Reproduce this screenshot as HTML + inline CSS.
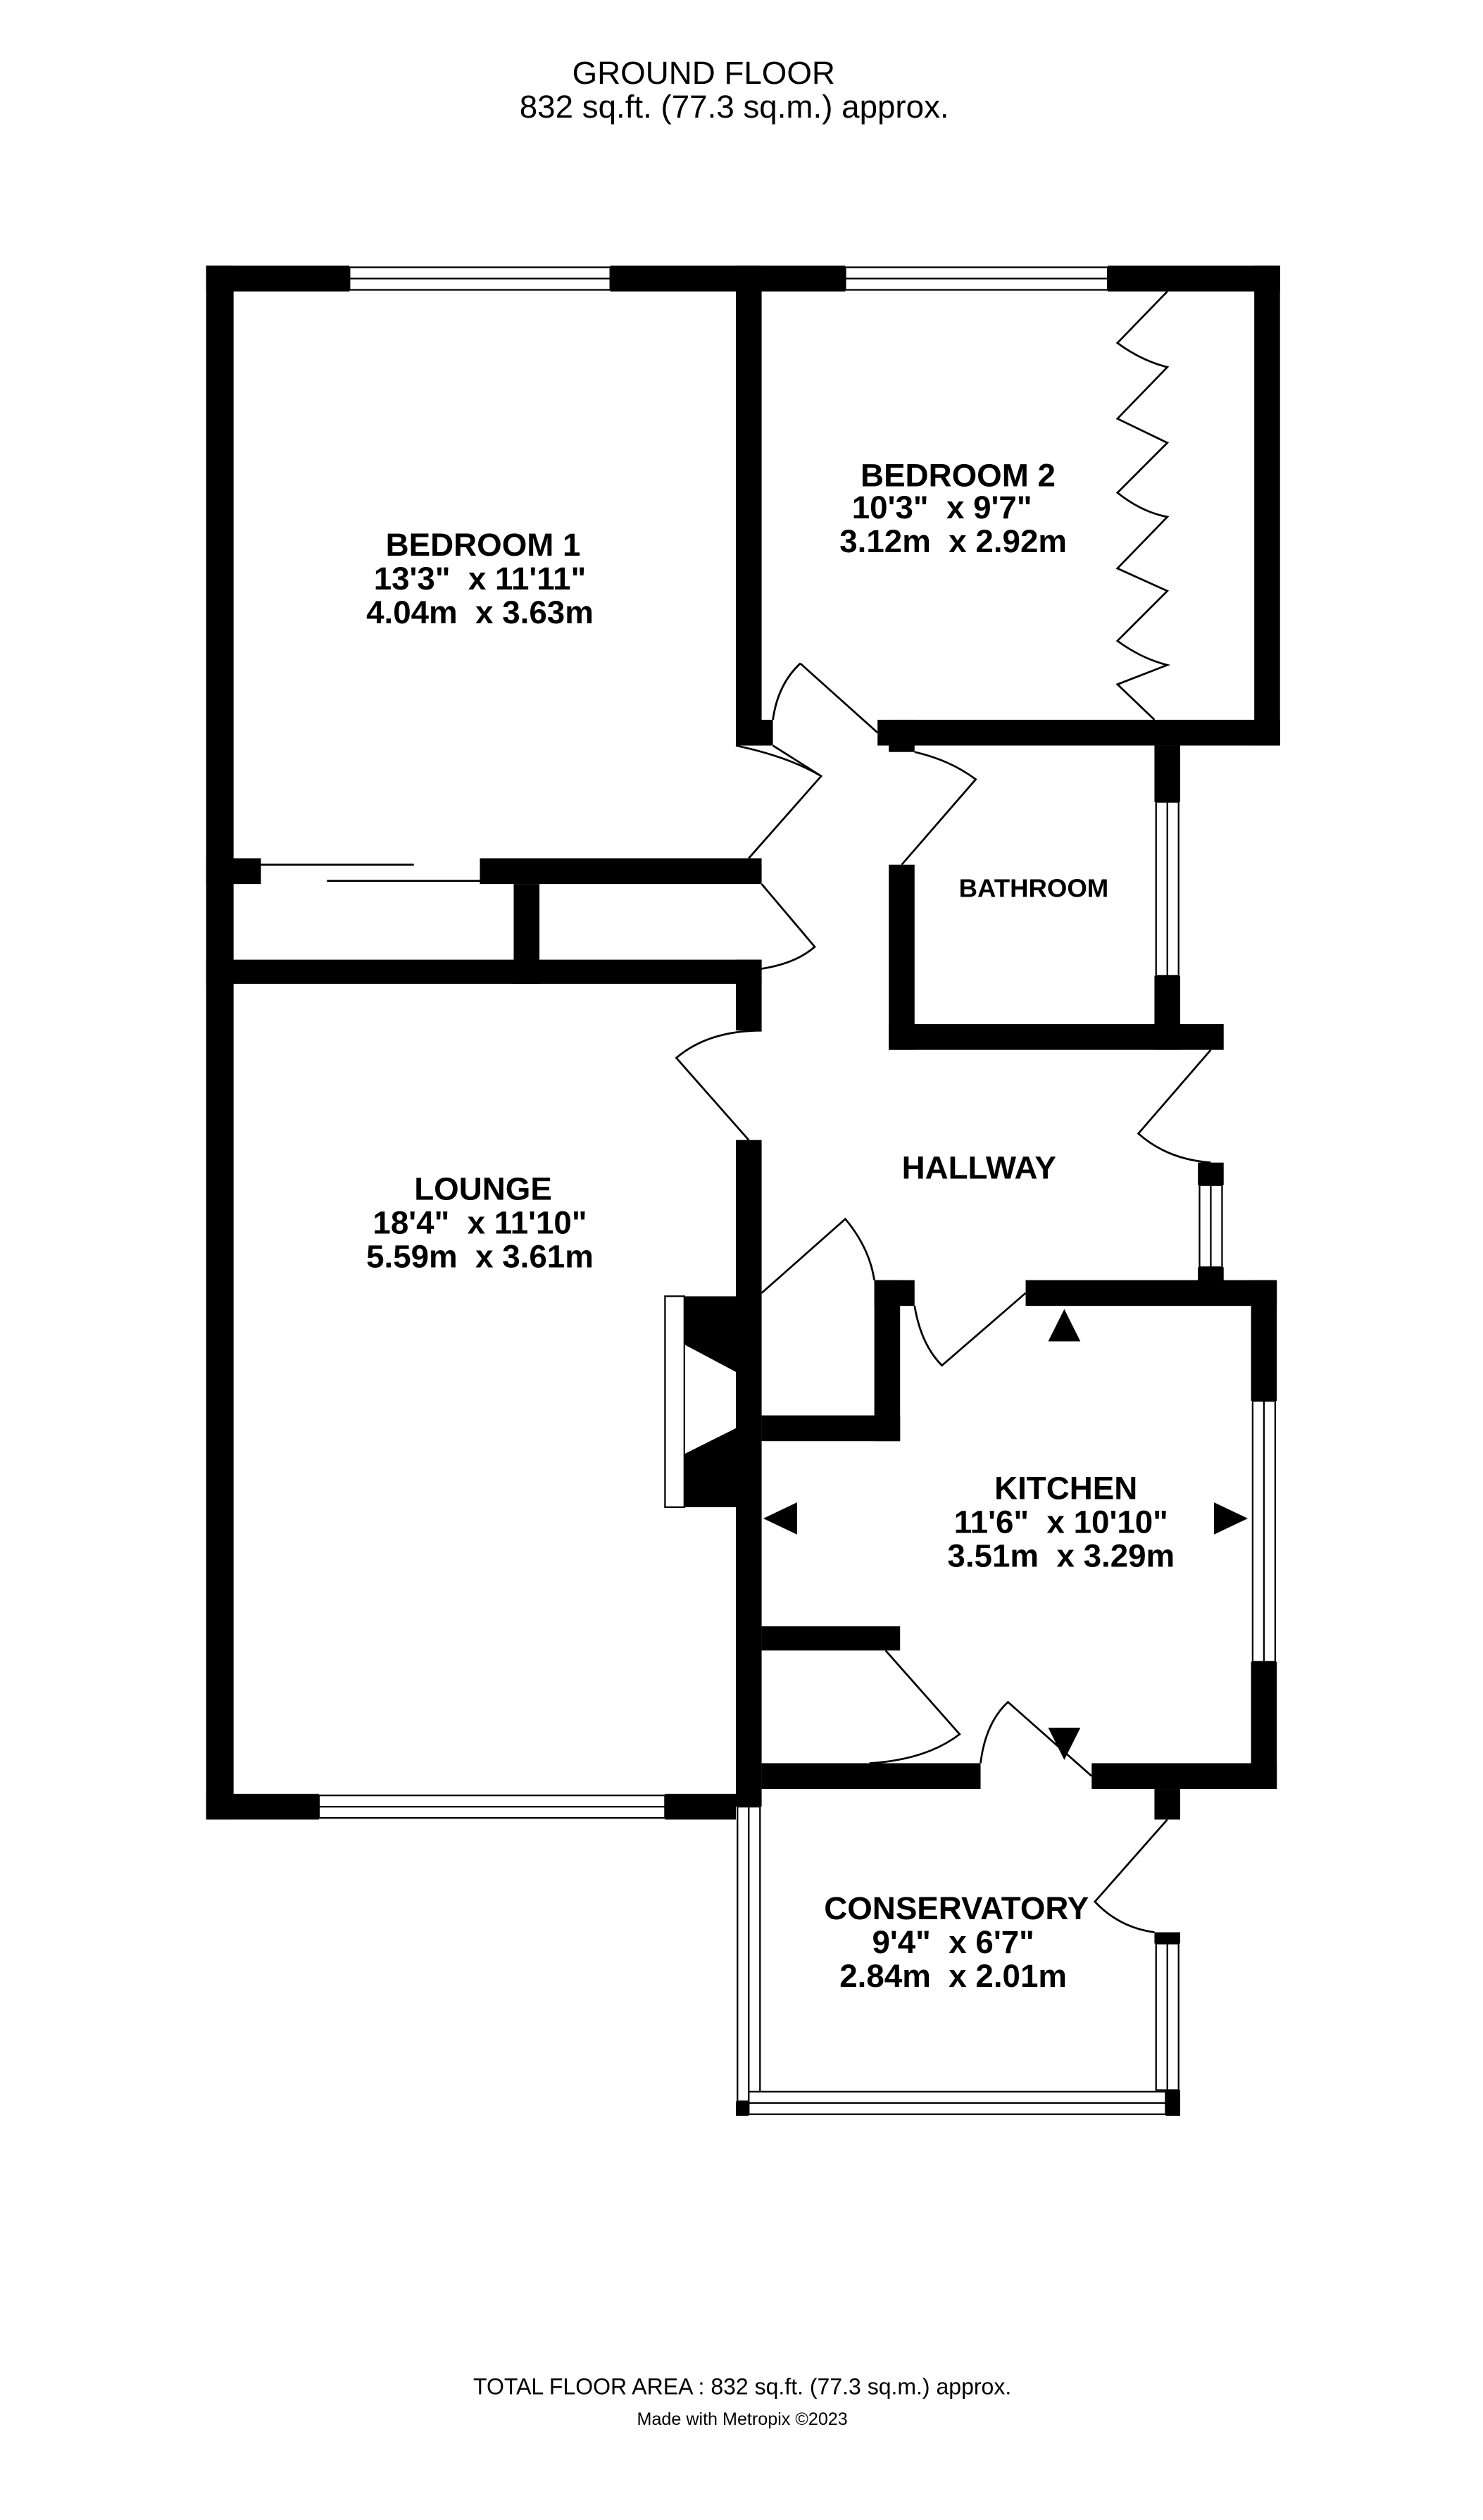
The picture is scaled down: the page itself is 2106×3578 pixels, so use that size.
<!DOCTYPE html>
<html><head><meta charset="utf-8"><style>
html,body{margin:0;padding:0;background:#fff}
svg{display:block}
text{font-family:"Liberation Sans",sans-serif;fill:#000;white-space:pre}
.b{font-weight:bold;font-size:20px}
</style></head><body>
<svg width="2106" height="3578" viewBox="0 0 921 1565" xmlns="http://www.w3.org/2000/svg" xml:space="preserve">
<rect width="921" height="1565" fill="#fff"/>
<text x="437" y="52" font-size="20" text-anchor="middle">GROUND FLOOR</text>
<text x="456" y="73" font-size="20" text-anchor="middle">832 sq.ft. (77.3 sq.m.) approx.</text>
<g fill="#000">
<rect x="128" y="165" width="89" height="16"/>
<rect x="379" y="165" width="146" height="16"/>
<rect x="688" y="165" width="107" height="16"/>
<rect x="128" y="165" width="17" height="965"/>
<rect x="457" y="165" width="16" height="298"/>
<rect x="457" y="447" width="23" height="16"/>
<rect x="779" y="165" width="16" height="298"/>
<rect x="545" y="447" width="250" height="16"/>
<rect x="552" y="447" width="16" height="20"/>
<rect x="128" y="533" width="34" height="16"/>
<rect x="298" y="533" width="175" height="16"/>
<rect x="319" y="549" width="16" height="62"/>
<rect x="128" y="596" width="345" height="15"/>
<rect x="457" y="596" width="16" height="44"/>
<rect x="457" y="708" width="16" height="414"/>
<rect x="552" y="537" width="16" height="115"/>
<rect x="552" y="636" width="208" height="16"/>
<rect x="717" y="463" width="16" height="35"/>
<rect x="717" y="606" width="16" height="46"/>
<rect x="744" y="722" width="16" height="14"/>
<rect x="744" y="787" width="16" height="10"/>
<rect x="637" y="795" width="156" height="16"/>
<rect x="543" y="795" width="25" height="16"/>
<rect x="543" y="795" width="16" height="100"/>
<rect x="473" y="879" width="86" height="16"/>
<rect x="777" y="795" width="16" height="75"/>
<rect x="777" y="1032" width="16" height="79"/>
<rect x="473" y="1095" width="136" height="16"/>
<rect x="678" y="1095" width="115" height="16"/>
<rect x="717" y="1111" width="16" height="19"/>
<rect x="473" y="1010" width="86" height="15"/>
<rect x="128" y="1114" width="70" height="16"/>
<rect x="413" y="1114" width="44" height="16"/>
<rect x="717" y="1200" width="16" height="7"/>
<rect x="724" y="1298" width="9" height="16"/>
<rect x="457" y="1305" width="8" height="9"/>
<polygon points="425,805 457,805 457,852 425,835"/>
<polygon points="425,936 457,936 457,887 425,903"/>
<polygon points="661,813 651,833 671,833"/>
<polygon points="474,943 495,933 495,953"/>
<polygon points="775,943 754,933 754,953"/>
<polygon points="661,1093 651,1073 671,1073"/>
</g>
<g fill="#fff" stroke="#000" stroke-width="1">
<rect x="217" y="166" width="162" height="14"/><line x1="217" y1="173" x2="379" y2="173"/>
<rect x="525" y="166" width="163" height="14"/><line x1="525" y1="173" x2="688" y2="173"/>
<rect x="718" y="498" width="14" height="108"/><line x1="725" y1="498" x2="725" y2="606"/>
<rect x="745" y="736" width="14" height="51"/><line x1="752" y1="736" x2="752" y2="787"/>
<rect x="778" y="870" width="14" height="162"/><line x1="785" y1="870" x2="785" y2="1032"/>
<rect x="198" y="1115" width="215" height="14"/><line x1="198" y1="1122" x2="413" y2="1122"/>
<rect x="458" y="1122" width="14" height="183"/><line x1="465" y1="1122" x2="465" y2="1305"/>
<rect x="465" y="1299" width="259" height="14"/><line x1="465" y1="1306" x2="724" y2="1306"/>
<rect x="718" y="1207" width="14" height="91"/><line x1="725" y1="1207" x2="725" y2="1298"/>
<rect x="413" y="805" width="12" height="131"/>
</g>
<g fill="none" stroke="#000" stroke-width="1.2">
<line x1="162" y1="537" x2="257" y2="537"/>
<line x1="203" y1="547" x2="298" y2="547"/>
<path d="M725,181 L694,213 Q709,224 725,228 L694,260 L725,275 L694,306 Q709,318 725,321 L694,353 L725,367 L694,398 Q709,409 725,413 L694,425 L717,447"/>
<path d="M480,463 L510,482 L465,533 M457,463 Q490,470 510,482"/>
<path d="M497,412 L545,455 M480,447 Q483,425 497,412"/>
<path d="M568,467 Q590,472 606,484 L560,537"/>
<path d="M473,549 L506,588 Q490,602 457,603"/>
<path d="M473,640 Q440,640 420,657 L465,708"/>
<path d="M752,652 L707,704 Q725,720 752,722"/>
<path d="M473,803 L525,757 Q540,775 543,795"/>
<path d="M568,811 Q572,835 585,848 L637,803"/>
<path d="M550,1025 L596,1077 Q575,1093 540,1095"/>
<path d="M609,1095 Q612,1070 626,1057 L678,1103"/>
<path d="M725,1130 L680,1181 Q695,1197 717,1200"/>
</g>
<text class="b" x="300" y="345" text-anchor="middle">BEDROOM 1</text>
<text class="b" x="298" y="366" text-anchor="middle">13'3"  x 11'11"</text>
<text class="b" x="298" y="387" text-anchor="middle">4.04m  x 3.63m</text>
<text class="b" x="595" y="302" text-anchor="middle">BEDROOM 2</text>
<text class="b" x="585" y="322" text-anchor="middle">10'3"  x 9'7"</text>
<text class="b" x="592" y="343" text-anchor="middle">3.12m  x 2.92m</text>
<text x="642" y="557" font-size="16" font-weight="bold" text-anchor="middle">BATHROOM</text>
<text class="b" x="608" y="732" text-anchor="middle">HALLWAY</text>
<text class="b" x="300" y="745" text-anchor="middle">LOUNGE</text>
<text class="b" x="298" y="766" text-anchor="middle">18'4"  x 11'10"</text>
<text class="b" x="298" y="787" text-anchor="middle">5.59m  x 3.61m</text>
<text class="b" x="662" y="931" text-anchor="middle">KITCHEN</text>
<text class="b" x="659" y="952" text-anchor="middle">11'6"  x 10'10"</text>
<text class="b" x="659" y="973" text-anchor="middle">3.51m  x 3.29m</text>
<text class="b" x="594" y="1192" text-anchor="middle">CONSERVATORY</text>
<text class="b" x="592" y="1213" text-anchor="middle">9'4"  x 6'7"</text>
<text class="b" x="592" y="1234" text-anchor="middle">2.84m  x 2.01m</text>
<text x="461" y="1487" font-size="14" text-anchor="middle">TOTAL FLOOR AREA : 832 sq.ft. (77.3 sq.m.) approx.</text>
<text x="461" y="1506" font-size="11" text-anchor="middle">Made with Metropix ©2023</text>
</svg>
</body></html>
